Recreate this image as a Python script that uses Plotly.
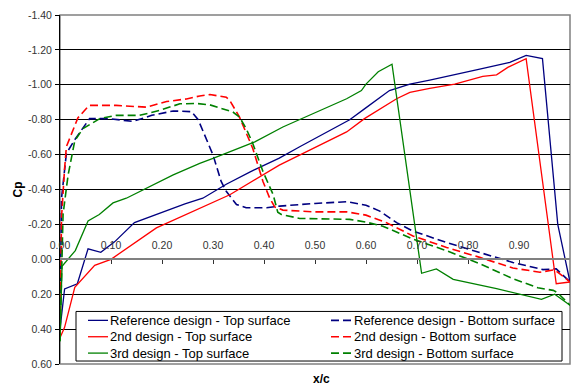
import plotly.graph_objects as go

# Pressure distributions (x/c vs Cp) for three airfoil designs
ref_top_x = [0.0, 0.009, 0.034, 0.055, 0.08, 0.107, 0.146, 0.245, 0.28, 0.326, 0.372, 0.43, 0.47,
             0.568, 0.597, 0.646, 0.686, 0.725, 0.823, 0.882, 0.914, 0.924, 0.946, 0.976, 1.0]
ref_top_cp = [0.40, 0.17, 0.14, -0.06, -0.04, -0.10, -0.21, -0.317, -0.35, -0.43, -0.50, -0.58, -0.645,
              -0.80, -0.862, -0.967, -1.004, -1.027, -1.09, -1.128, -1.169, -1.162, -1.15, -0.20, 0.13]

ref_bot_x = [0.0, 0.003, 0.0125, 0.03, 0.058, 0.097, 0.143, 0.18, 0.222, 0.258, 0.271, 0.30, 0.316,
             0.326, 0.346, 0.365, 0.405, 0.431, 0.50, 0.562, 0.60, 0.627, 0.66, 0.692, 0.758, 0.823,
             0.888, 0.947, 0.973, 1.0]
ref_bot_cp = [0.40, -0.35, -0.607, -0.69, -0.806, -0.806, -0.79, -0.825, -0.85, -0.846, -0.80, -0.598,
              -0.446, -0.39, -0.314, -0.295, -0.295, -0.305, -0.32, -0.33, -0.31, -0.276, -0.21, -0.162,
              -0.096, -0.04, 0.018, 0.059, 0.055, 0.13]

d2_top_x = [0.0, 0.009, 0.029, 0.055, 0.068, 0.10, 0.146, 0.189, 0.333, 0.372, 0.43, 0.562, 0.597,
            0.66, 0.686, 0.725, 0.774, 0.829, 0.856, 0.878, 0.914, 0.973, 1.0]
d2_top_cp = [0.45, 0.39, 0.16, 0.08, 0.035, 0.0, -0.095, -0.18, -0.37, -0.437, -0.54, -0.73, -0.806,
             -0.92, -0.957, -0.98, -1.004, -1.048, -1.057, -1.10, -1.15, 0.14, 0.13]

d2_bot_x = [0.0, 0.003, 0.009, 0.0125, 0.035, 0.057, 0.11, 0.169, 0.209, 0.248, 0.274, 0.294, 0.326,
            0.333, 0.352, 0.378, 0.398, 0.411, 0.421, 0.437, 0.496, 0.562, 0.60, 0.64, 0.692, 0.758,
            0.823, 0.888, 0.941, 0.97, 1.0]
d2_bot_cp = [0.45, -0.24, -0.52, -0.645, -0.81, -0.882, -0.882, -0.872, -0.904, -0.919, -0.936, -0.944,
             -0.929, -0.91, -0.815, -0.635, -0.446, -0.352, -0.30, -0.282, -0.272, -0.272, -0.253,
             -0.21, -0.134, -0.068, -0.011, 0.05, 0.074, 0.06, 0.13]

d3_top_x = [0.0, 0.004, 0.03, 0.055, 0.077, 0.104, 0.13, 0.222, 0.274, 0.30, 0.382, 0.437, 0.562,
            0.591, 0.60, 0.624, 0.651, 0.709, 0.738, 0.771, 0.856, 0.944, 0.97, 1.0]
d3_top_cp = [0.47, 0.04, -0.05, -0.22, -0.257, -0.323, -0.35, -0.484, -0.55, -0.578, -0.673, -0.758,
             -0.92, -0.967, -1.004, -1.075, -1.118, 0.08, 0.055, 0.115, 0.168, 0.23, 0.20, 0.263]

d3_bot_x = [0.0, 0.006, 0.0125, 0.016, 0.029, 0.045, 0.078, 0.11, 0.156, 0.195, 0.235, 0.267, 0.294,
            0.32, 0.339, 0.352, 0.365, 0.378, 0.398, 0.418, 0.427, 0.434, 0.47, 0.568, 0.60, 0.633,
            0.692, 0.758, 0.823, 0.888, 0.937, 0.967, 0.975, 1.0]
d3_bot_cp = [0.47, -0.257, -0.408, -0.484, -0.68, -0.749, -0.806, -0.825, -0.825, -0.853, -0.891,
             -0.893, -0.885, -0.862, -0.844, -0.815, -0.749, -0.664, -0.503, -0.37, -0.27, -0.257,
             -0.234, -0.229, -0.213, -0.19, -0.116, -0.049, 0.025, 0.111, 0.163, 0.178, 0.19, 0.263]

y_ticks = [-1.4, -1.2, -1.0, -0.8, -0.6, -0.4, -0.2, 0.0, 0.2, 0.4, 0.6]
y_tick_labels = ["-1.40", "-1.20", "-1.00", "-0.80", "-0.60", "-0.40", "-0.20", "0.00", "0.20", "0.40", "0.60"]
x_ticks = [0.0, 0.1, 0.2, 0.3, 0.4, 0.5, 0.6, 0.7, 0.8, 0.9, 1.0]
x_tick_labels = ["0.00", "0.10", "0.20", "0.30", "0.40", "0.50", "0.60", "0.70", "0.80", "0.90", "1.00"]

NAVY, RED, GREEN = "#000080", "#FF0000", "#008000"
DASH = "8px,4px"
FONT = "Arial, Liberation Sans, sans-serif"

series = [
    ("Reference design - Top surface", ref_top_x, ref_top_cp, NAVY, "solid"),
    ("Reference design - Bottom surface", ref_bot_x, ref_bot_cp, NAVY, DASH),
    ("2nd design - Top surface", d2_top_x, d2_top_cp, RED, "solid"),
    ("2nd design - Bottom surface", d2_bot_x, d2_bot_cp, RED, DASH),
    ("3rd design - Top surface", d3_top_x, d3_top_cp, GREEN, "solid"),
    ("3rd design - Bottom surface", d3_bot_x, d3_bot_cp, GREEN, DASH),
]

# plot-area geometry in pixels (used to lay out the boxed two-column key)
PL, PR, PT, PB = 60, 570, 12, 364


def px_x(px):
    return (px - PL) / (PR - PL)


def px_y(py):
    return (PB - py) / (PB - PT)


fig = go.Figure()
for name, xs, ys, color, dash in series:
    fig.add_trace(go.Scatter(
        x=xs, y=ys, name=name, mode="lines", showlegend=False,
        line=dict(color=color, width=1.3 if dash == "solid" else 1.6, dash=dash),
    ))

shapes = [
    dict(type="rect", xref="paper", yref="paper", x0=0, x1=1, y0=0, y1=1,
         line=dict(color="#808080", width=1.5), layer="below"),
    # key box
    dict(type="rect", xref="paper", yref="paper", x0=px_x(76), x1=px_x(562),
         y0=px_y(361), y1=px_y(311), fillcolor="white",
         line=dict(color="black", width=1), layer="above"),
]
annotations = []

# key: top surfaces in the left column, bottom surfaces in the right column
row_y = [320, 336.5, 353]
col_line = [(88, 108, 111), (331, 352, 355)]
for i, (name, _, _, color, dash) in enumerate(series):
    col, row = i % 2, i // 2
    x0, x1, xt = col_line[col]
    shapes.append(dict(type="line", xref="paper", yref="paper",
                       x0=px_x(x0), x1=px_x(x1), y0=px_y(row_y[row]), y1=px_y(row_y[row]),
                       line=dict(color=color, width=1.6 if dash != "solid" else 1.3, dash=dash),
                       layer="above"))
    annotations.append(dict(text=name, xref="paper", yref="paper", x=px_x(xt), y=px_y(row_y[row]),
                            xanchor="left", yanchor="middle", xshift=-3, showarrow=False,
                            font=dict(family=FONT, size=13, color="black")))

annotations += [
    dict(text="<b>Cp</b>", xref="paper", yref="paper", x=px_x(17), y=0.5,
         xanchor="center", yanchor="middle",
         textangle=-90, showarrow=False, font=dict(family=FONT, size=12, color="black")),
    dict(text="<b>x/c</b>", xref="paper", yref="paper", x=px_x(321), y=px_y(379),
         xanchor="center", yanchor="middle",
         showarrow=False, font=dict(family=FONT, size=12, color="black")),
]

fig.update_layout(
    width=579, height=387,
    margin=dict(l=PL, r=579 - PR, t=PT, b=387 - PB),
    paper_bgcolor="white", plot_bgcolor="white",
    font=dict(family=FONT, size=10, color="#111111"),
    showlegend=False,
    xaxis=dict(
        range=[0, 1], tickvals=x_ticks, ticktext=x_tick_labels,
        anchor="free", position=0.3, side="top",
        showline=True, linecolor="#808080", linewidth=2,
        ticks="inside", ticklen=4, tickcolor="#333333",
        ticklabelstandoff=5,
        showgrid=False, zeroline=False,
        tickfont=dict(color="#333333", size=10.5),
    ),
    yaxis=dict(
        range=[0.6, -1.4], tickvals=y_ticks, ticktext=y_tick_labels,
        showline=True, linecolor="black", linewidth=1,
        ticks="outside", ticklen=4, tickcolor="black",
        ticklabelstandoff=1,
        showgrid=True, gridcolor="black", gridwidth=1, zeroline=False,
        tickfont=dict(color="#333333", size=10.5),
    ),
    shapes=shapes,
    annotations=annotations,
)

fig.write_html("out.html")
